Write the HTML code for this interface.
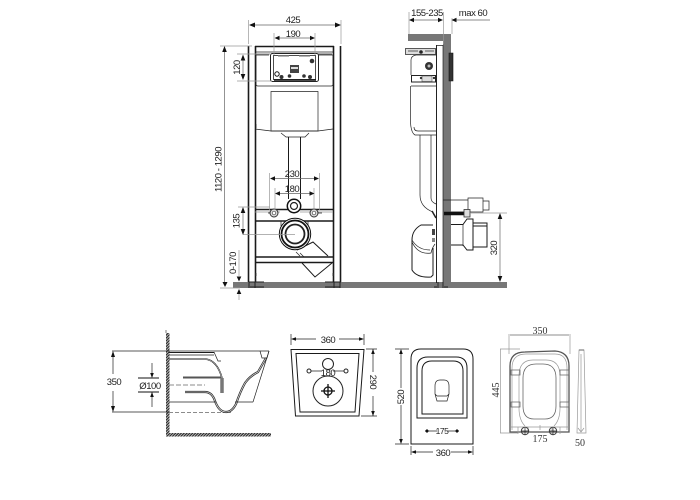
<!DOCTYPE html>
<html><head><meta charset="utf-8"><style>
html,body{margin:0;padding:0;background:#fff}
svg{display:block;filter:blur(.3px)}
text{font-family:"Liberation Sans",sans-serif;font-size:9.5px;letter-spacing:-.45px;fill:#222;text-anchor:middle}
text.s{font-family:"Liberation Serif",serif;font-size:10px;letter-spacing:0;fill:#333}
.k{fill:none;stroke:#1a1a1a;stroke-width:1}
.k2{fill:none;stroke:#1a1a1a;stroke-width:1.5}
.t{fill:none;stroke:#222;stroke-width:.7}
.h{fill:none;stroke:#1a1a1a;stroke-width:1.6}
.g{fill:none;stroke:#999;stroke-width:.7}
.m{fill:none;stroke:#666;stroke-width:.8}
.d{fill:none;stroke:#666;stroke-width:.7}
.a{fill:#111;stroke:none}
</style></head><body>
<svg width="700" height="500" viewBox="0 0 700 500" xmlns="http://www.w3.org/2000/svg">
<defs><pattern id="hat" width="2" height="2" patternUnits="userSpaceOnUse" patternTransform="rotate(45)"><rect width="2" height="2" fill="#bbb"/><rect width="1" height="2" fill="#222"/></pattern></defs>
<rect width="700" height="500" fill="#fff"/>

<!-- floor and wall -->
<rect x="233" y="282" width="274" height="6" fill="#777"/>
<rect x="443" y="34" width="8" height="250" fill="#777"/>
<rect x="408" y="34" width="43" height="7" fill="#777"/>

<!-- FRONT FRAME -->
<path class="h" d="M248.500 46V282M255.500 46V282M333.500 46V282M340.500 46V282M255 46.500H334"/>
<path class="k2" d="M255 257H333M255 262.500H333"/>
<path class="t" d="M255 52H333M256 54H270M317 54H332M255 55H269M319 55H333"/>
<path class="t" d="M256 55V84Q256 86 258 86H331Q333 86 333 84V55"/>
<path class="k2" d="M255 209.500H333M255 221H333"/>
<path class="g" d="M255 212H280M300 212H333"/>
<!-- control box -->
<rect x="270.500" y="53.500" width="48" height="28" rx="2" fill="#fff" stroke="#222" stroke-width="1"/>
<rect x="273.500" y="55.500" width="42" height="24" fill="none" stroke="#222" stroke-width=".8"/>
<path d="M274 80H316" stroke="#111" stroke-width="1.600"/>
<path d="M278 56H289M299 56H310" stroke="#888" stroke-width="1.300"/>
<circle cx="312" cy="61" r="2.300" fill="#333"/>
<circle cx="277" cy="74" r="2.200" fill="#fff" stroke="#111"/>
<circle cx="281.500" cy="77" r="2" fill="#333"/><circle cx="289.500" cy="76" r="1.800" fill="#333"/>
<circle cx="304" cy="76" r="1.800" fill="#333"/><circle cx="310" cy="77" r="2" fill="#333"/>
<rect x="290" y="65" width="9" height="8" fill="#444"/><rect x="291" y="67" width="7" height="2" fill="#ddd"/>
<!-- cistern -->
<path class="t" d="M271 91.500H318V131H271Z"/>
<path class="t" d="M255 129L271 131H318L333 129M256 124V128M281 133L286 137H305L309 133"/>
<path class="k" d="M288.500 137V199M300.500 137V199"/>
<!-- holes row -->
<circle cx="294" cy="206" r="6.700" fill="#fff" stroke="#111" stroke-width="1.500"/>
<circle cx="294" cy="206" r="3.500" fill="#fff" stroke="#222" stroke-width="1.200"/>
<circle cx="274" cy="213" r="4" fill="#ddd" stroke="#333"/><circle cx="274" cy="213" r="1.800" fill="#fff" stroke="#444" stroke-width=".7"/>
<circle cx="314" cy="213" r="4" fill="#ddd" stroke="#333"/><circle cx="314" cy="213" r="1.800" fill="#fff" stroke="#444" stroke-width=".7"/>
<path class="t" d="M268 213H270M318 213H322"/>
<!-- waste outlet -->
<path class="t" d="M281 221V226M308 221V226"/>
<path class="k" d="M297 250L313 242L328 256"/>
<path class="k" d="M302 263L315 277L332 263"/>
<path class="t" d="M296 252L300 256M300 253L304 257"/>
<circle cx="295" cy="234" r="15.700" fill="#fff" stroke="#111" stroke-width="1"/>
<circle cx="295" cy="234" r="13.500" fill="#fff" stroke="#111" stroke-width="1.800"/>
<circle cx="295" cy="234" r="9.500" fill="#fff" stroke="#222" stroke-width="1.800"/>
<path class="g" d="M243 234.500H295"/>
<!-- feet -->
<path d="M249 282V288M255 282V288M334 282V288M340 282V288M250 287H264M325 287H340M248.500 282H264M325 282H341" stroke="#222" stroke-width="1" fill="none"/>
<path d="M256 273V276M333 273V276" stroke="#333" stroke-width="1"/>

<!-- FRONT DIMENSIONS -->
<path class="g" d="M248.500 20V44M341 20V44M274 33V55M315 33V55"/>
<path class="d" d="M252 25H338M278 38H311"/>
<path class="a" d="M249 25l6-2.500v5zM341 25l-6-2.500v5zM274.500 38l5-2.300v4.600zM315 38l-5-2.300v4.600z"/>
<text x="293" y="23">425</text><text x="293" y="37">190</text>
<path class="g" d="M220 46H252M237 54H271M237 81H272M238 207H270M220 288H240"/>
<path class="d" d="M224.500 50V282M243 60V76"/>
<path class="a" d="M224.500 46l-2.300 6h4.600zM225 287l-2.500-5h5zM243 54.500l-2.300 6h4.600zM243 80l-2.300-6h4.600z"/>
<text transform="translate(240 67.500) rotate(-90)">120</text>
<text transform="translate(221.500 169.500) rotate(-90)">1120 - 1290</text>
<path class="d" d="M243 212V231"/>
<path class="a" d="M243 207l-2.300 6h4.600zM243 235l-2.300-6h4.600z"/>
<text transform="translate(239.500 221) rotate(-90)">135</text>
<path class="g" d="M239 250V276M239 294V300"/>
<path class="a" d="M239 281.500l-2.300-5h4.600zM239 289l-2.300 5h4.600z"/>
<text transform="translate(236 263) rotate(-90)">0-170</text>
<path class="g" d="M269.500 173V210M319.500 173V210M275 188V210M314 188V210"/>
<path class="d" d="M274 178.500H315M279 193.500H310"/>
<path class="a" d="M270 178.500l5-2.300v4.600zM319 178.500l-5-2.300v4.600zM275 193.500l5-2.300v4.600zM314.500 193.500l-5-2.300v4.600z"/>
<text x="292" y="177">230</text><text x="292" y="192">180</text>

<!-- SIDE VIEW -->
<path class="g" d="M409 12V34M443.500 12V44M452 18V34"/>
<path class="d" d="M412 20H440M455 20H490"/>
<path class="a" d="M409 20l5-2.300v4.600zM443 20l-5-2.300v4.600zM451.500 20l5-2.300v4.600z"/>
<text x="427" y="16">155-235</text><text x="473" y="16">max 60</text>
<path d="M436.500 45V283" stroke="#222" stroke-width="1" fill="none"/>
<path class="t" d="M436 45.500H443M443 45V283"/>
<rect x="405.500" y="48.500" width="30" height="6" fill="#ddd" stroke="#333" stroke-width=".8"/>
<circle cx="421" cy="52" r="1.800" fill="#222"/><path d="M408 51H418M425 51H434" stroke="#777" stroke-width="1.200"/>
<path class="t" d="M411 75V60Q411 56 416 55H436M410.500 86V122Q411 133 415 135H436M411 86H436"/>
<circle cx="429" cy="66" r="4" fill="#333"/><circle cx="429" cy="66" r="1.500" fill="#bbb"/>
<rect x="411.500" y="75.500" width="24" height="6.500" fill="#fff" stroke="#222"/>
<rect x="422" y="76" width="10" height="5.500" fill="#ddd" stroke="#555" stroke-width=".6"/>
<circle cx="421" cy="78" r="1.200" fill="#333"/><circle cx="434" cy="78" r="1.200" fill="#333"/>
<path class="t" d="M414 127Q414 131 418 131H436"/>
<path d="M449 53H453V81H449Z" fill="#333" stroke="#111" stroke-width=".6"/>
<!-- side pipe -->
<path class="t" d="M420 135V195Q420 207 433 212M431 135V198Q431 202 436 204"/>
<path class="t" d="M443 200H468M451 212H468"/>
<path class="t" d="M468 198H483V212H468ZM483 201H489V210H483Z"/>
<path d="M444 213.500H464" stroke="#111" stroke-width="3.500"/>
<rect x="464" y="209.500" width="6" height="7.500" fill="#ddd" stroke="#333" stroke-width=".8"/>
<path class="g" d="M470 213H507"/>
<path d="M432 211L436 218" stroke="#222" stroke-width="1.500"/>
<!-- elbow -->
<path class="k" d="M433 225H421Q412 230 412 240V270Q417 278 431 277L433 275V248"/>
<path class="t" d="M412 242Q418 255 431 253Q432 248 435 244"/>
<path class="t" d="M412 240Q418 250 430 250"/>
<rect x="432" y="229" width="3" height="6" fill="#444"/>
<rect x="432" y="238" width="3" height="4" fill="#888"/>
<!-- rear outlet -->
<path class="k" d="M451 224.500H463L467 219H473V250H467L463 245H451"/>
<path class="t" d="M463 224V246"/>
<path class="k" d="M473 223H487V247H473M473 226H487"/>
<!-- 320 dim -->
<path class="d" d="M500 218V277"/>
<path class="a" d="M500 213l-2.300 6h4.600zM500 282l-2.300-6h4.600z"/>
<text transform="translate(497 248) rotate(-90)">320</text>
<path d="M438 282V288M443 282V288M434 287H437M444 287H448" stroke="#222" stroke-width=".9" fill="none"/>

<!-- BOTTOM LEFT: SIDE -->
<rect x="166" y="333" width="3.500" height="103" fill="url(#hat)"/>
<rect x="166" y="433" width="105" height="3.500" fill="url(#hat)"/>
<path d="M166 330V333" stroke="#444" stroke-width=".7"/>
<path class="t" d="M112 351H269M112 412H169"/>
<path class="d" d="M169 412.500H231" stroke-dasharray="4 2"/>
<path class="d" d="M169 385H205" stroke-dasharray="5 2"/>
<path class="t" d="M113 352V374M113 391V410"/>
<path class="a" d="M113 351l-2 6h4zM113 412l-2-6h4z"/>
<text x="114" y="385">350</text>
<path d="M138 378H159M138 392H159" stroke="#111" stroke-width="1" fill="none"/>
<path class="t" d="M152 363V377M152 392V407"/>
<path class="a" d="M152 378l-1.800-5h3.600zM152 392l-1.800 5h3.600z"/>
<text x="150" y="389">Ø100</text>
<path class="k" d="M169 352.500H214"/>
<path class="t" d="M169 355H214M214 352L218 361L221 361"/>
<path class="k2" d="M169 359H205Q217 360 222 378"/>
<path d="M169 359H205Q217 360 222 378" fill="none" stroke="#fff" stroke-width=".5"/>
<path d="M183 377.500H221" stroke="#555" stroke-width="2" fill="none"/>
<path d="M222 378V393" stroke="#777" stroke-width="3.500" fill="none"/>
<path fill="none" stroke="#333" stroke-width="2.200" d="M185 392H205Q212 392 215 401Q219 412 226 412Q232 412 236 404Q240 392 245 383Q250 376 258 372L266 358"/>
<path d="M185 392H205Q212 392 215 401Q219 412 226 412Q232 412 236 404Q240 392 245 383Q250 376 258 372L266 358" fill="none" stroke="#fff" stroke-width=".6"/>
<path class="t" d="M169 402H216M253 402L269 351M235 402H253"/>
<path class="t" d="M260 351L262 358H267L269 351"/>

<!-- BOTTOM: TOP VIEW TANK -->
<path class="t" d="M291 334V345M364 334V345M377 349H366M377 416H361"/>
<path class="t" d="M294 339H316M339 339H361"/>
<path class="a" d="M291 339l5-1.800v3.600zM364 339l-5-1.800v3.600z"/>
<text x="328" y="343">360</text>
<path class="k" d="M291 349.500H364L359 416H295.500Z"/>
<path class="k" d="M296 353.500H359L355 412H300Z"/>
<path class="t" d="M373 349V372M373 396V416"/>
<path class="a" d="M373 349l-1.800 5h3.600zM373 416l-1.800-5h3.600z"/>
<text transform="translate(370 382) rotate(90)">290</text>
<circle cx="328" cy="364" r="5.500" fill="#fff" stroke="#222"/>
<circle cx="309" cy="371" r="2" fill="#fff" stroke="#222"/><circle cx="346" cy="371" r="2" fill="#fff" stroke="#222"/>
<path class="t" d="M311 371H322M333 371H344"/>
<text x="328" y="376">180</text>
<circle cx="328" cy="391" r="15" fill="#fff" stroke="#222"/>
<circle cx="328" cy="391" r="4" fill="#fff" stroke="#111" stroke-width="1.300"/>
<path d="M321 391H335M328 384V398" stroke="#111" stroke-width="1.300" fill="none"/>

<!-- BOTTOM: BOWL TOP -->
<path class="k" d="M411 444V359Q411 349 421 349H463Q473 349 473 359V444Z"/>
<path class="t" d="M395 349H409M395 444H409M411 446V455M473 446V455"/>
<path class="t" d="M401 350V388M401 405V443"/>
<path class="a" d="M401 349l-1.800 5h3.600zM401 444l-1.800-5h3.600z"/>
<text transform="translate(404 397) rotate(-90)">520</text>
<path class="t" d="M413 452H433M451 452H471"/>
<path class="a" d="M411 452l5-1.800v3.600zM473 452l-5-1.800v3.600z"/>
<text x="443" y="456">360</text>
<path class="k" d="M417 418V368Q417 357 428 357H456Q467 357 467 368V418Z"/>
<path class="k" d="M422 414V371Q422 361 432 361H453Q463 361 463 371V414Z"/>
<path class="t" d="M437 401L435 394V386Q435 380 440 380H444Q449 380 449 386V394L447 401ZM437 396H447L449 394M435 394L437 396"/>
<path class="t" d="M425 431H459"/>
<path class="a" d="M425 431l2-2 2 2-2 2zM455 431l2-2 2 2-2 2z"/>
<rect x="437" y="426" width="10" height="9" fill="#fff"/>
<text x="442" y="434" style="font-size:8.500px">175</text>

<!-- BOTTOM: SEAT -->
<path class="g" d="M509 334V354M570 334V354"/>
<path class="d" d="M510 335H569"/>
<text class="s" x="540" y="334">350</text>
<path class="g" d="M500 349H520M500 433H518M500.500 349V433"/>
<text class="s" transform="translate(499 390) rotate(-90)">445</text>
<path d="M510 432V366Q510 352 525 352L555 351Q569 352 569 366V432Z" fill="none" stroke="#555" stroke-width="1.300"/>
<path class="g" d="M512 430V368Q512 354 526 354H555Q567 354 567 368V430"/>
<path class="g" d="M525 426Q519 420 519 408V376Q519 360 533 360H546Q560 360 560 376V408Q560 420 554 426"/>
<path class="m" d="M534 419Q523 419 523 406V378Q523 364 536 364H543Q556 364 556 378V406Q556 419 545 419Z"/>
<path class="m" d="M511 370H520V375H511ZM560 370H569V375H560ZM511 402H520V407H511ZM560 402H569V407H560Z"/>
<path class="g" d="M511 427H569M518 427V434M528 427V434M552 427V434M560 427V434M540 425V430"/>
<circle cx="525" cy="431" r="3.700" fill="none" stroke="#444"/><path class="t" d="M521 431H529M525 428V435"/>
<circle cx="553" cy="431" r="3.700" fill="none" stroke="#444"/><path class="t" d="M549 431H557M553 428V435"/>
<text class="s" x="540" y="442">175</text>
<path class="g" d="M579 350H584L586 433H577Z"/>
<path class="g" d="M581 354V431M578 428L581 432L584 428"/>
<path d="M579 350H584" stroke="#666" stroke-width="1"/>
<text class="s" x="580" y="446">50</text>
</svg>
</body></html>
